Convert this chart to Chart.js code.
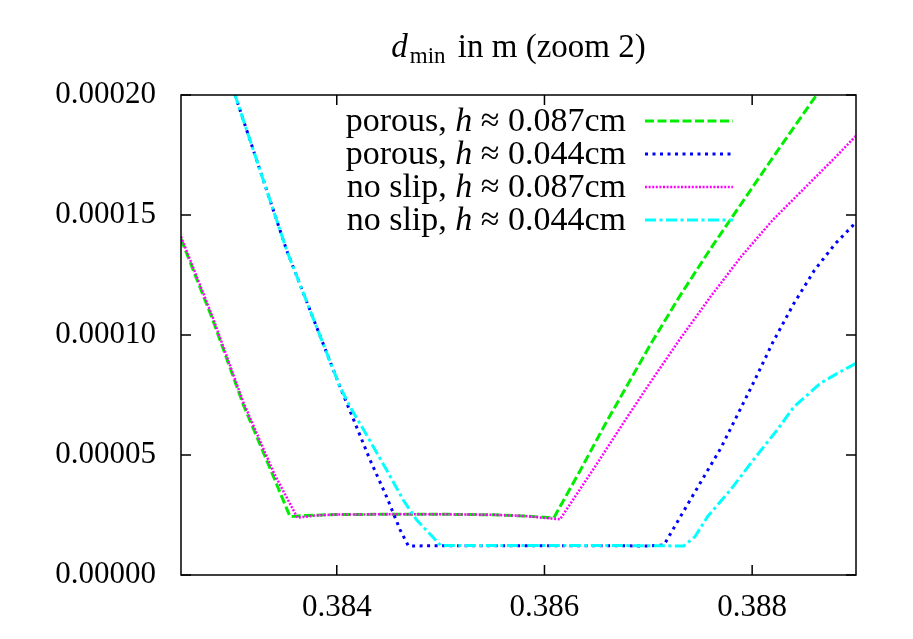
<!DOCTYPE html>
<html>
<head>
<meta charset="utf-8">
<script src="https://cdn.jsdelivr.net/npm/chart.js@4.4.1/dist/chart.umd.min.js"></script>
<style>
  html, body { margin: 0; padding: 0; background: #fff; }
  #wrap { width: 913px; height: 639px; position: relative; }
</style>
</head>
<body>
<div id="wrap"><canvas id="c" width="913" height="639"></canvas></div>
<script>
// ---- data (x in position, y in metres) ----
const xTicks = [0.384, 0.386, 0.388];
const yTicks = [0.00000, 0.00005, 0.00010, 0.00015, 0.00020];

const porous087X = [0.3825, 0.3828, 0.3831, 0.3834, 0.38355, 0.3837, 0.3840, 0.3845, 0.3850, 0.3855, 0.3858, 0.38609, 0.38635, 0.3866, 0.38681, 0.38702, 0.3873, 0.3876, 0.3879, 0.3882, 0.38862];
const porous087Y = [140e-6, 107e-6, 71e-6, 40e-6, 24.3e-6, 24.8e-6, 25.2e-6, 25.3e-6, 25.3e-6, 25.1e-6, 24.6e-6, 23.8e-6, 44e-6, 64e-6, 80e-6, 96e-6, 116e-6, 136e-6, 155e-6, 174e-6, 200e-6];

const porous044X = [0.38295, 0.38302, 0.38352, 0.38403, 0.38415, 0.38432, 0.38448, 0.38461, 0.38469, 0.3850, 0.3855, 0.3860, 0.3865, 0.3870, 0.38715, 0.3874, 0.3877, 0.3880, 0.3882, 0.3884, 0.3886, 0.3888, 0.3890];
const porous044Y = [209e-6, 200e-6, 135e-6, 78.5e-6, 66e-6, 48e-6, 32.6e-6, 18.8e-6, 12.1e-6, 12.2e-6, 12.2e-6, 12.2e-6, 12.2e-6, 12.1e-6, 12.5e-6, 31e-6, 53e-6, 79e-6, 97e-6, 113e-6, 127e-6, 138e-6, 147e-6];

const noslip087X = [0.3825, 0.3828, 0.3831, 0.3834, 0.38362, 0.3838, 0.3840, 0.3845, 0.3850, 0.3855, 0.3858, 0.38615, 0.3865, 0.3868, 0.3870, 0.3873, 0.3876, 0.3879, 0.3882, 0.3885, 0.3888, 0.3890];
const noslip087Y = [141e-6, 108e-6, 72e-6, 42e-6, 23.9e-6, 24.8e-6, 25.2e-6, 25.3e-6, 25.3e-6, 25.1e-6, 24.6e-6, 23.2e-6, 46e-6, 66e-6, 79e-6, 98e-6, 116e-6, 133e-6, 148e-6, 161e-6, 174e-6, 183e-6];

const noslip044X = [0.38295, 0.38302, 0.38352, 0.38403, 0.38413, 0.38426, 0.38448, 0.38464, 0.38477, 0.3849, 0.3850, 0.3855, 0.3860, 0.3865, 0.3870, 0.38734, 0.38745, 0.38757, 0.38779, 0.38801, 0.38824, 0.3884, 0.38866, 0.38885, 0.3890];
const noslip044Y = [209e-6, 200e-6, 135e-6, 78.5e-6, 70e-6, 60.4e-6, 43.75e-6, 31.25e-6, 22.9e-6, 17e-6, 12.3e-6, 12.3e-6, 12.3e-6, 12.3e-6, 12.2e-6, 12.1e-6, 16e-6, 24.3e-6, 35.4e-6, 47.9e-6, 60.4e-6, 70e-6, 80e-6, 84.7e-6, 88.2e-6];

const seriesLabels = [
  ["porous, ", "h", " \u2248 0.087cm"],
  ["porous, ", "h", " \u2248 0.044cm"],
  ["no slip, ", "h", " \u2248 0.087cm"],
  ["no slip, ", "h", " \u2248 0.044cm"]
];
const titleParts = ["d", "min", " in m (zoom 2)"];

// ---- build ----
const pts = (xs, ys) => xs.map((x, i) => ({ x: x, y: ys[i] }));
const SERIF = "'Liberation Serif', 'DejaVu Serif', serif";

const styles = [
  { color: '#00ee00', dash: [9, 3.5], width: 3 },
  { color: '#0000ff', dash: [3, 4.5], width: 3 },
  { color: '#ff00ff', dash: [2, 1.6], width: 2.5 },
  { color: '#00ffff', dash: [11, 3.5, 3, 3.5], width: 3 }
];
const seriesData = [
  pts(porous087X, porous087Y),
  pts(porous044X, porous044Y),
  pts(noslip087X, noslip087Y),
  pts(noslip044X, noslip044Y)
];

const datasets = seriesData.map((d, i) => ({
  label: seriesLabels[i].join(''),
  data: d,
  borderColor: styles[i].color,
  borderWidth: styles[i].width,
  borderDash: styles[i].dash,
  borderCapStyle: 'butt',
  pointRadius: 0,
  tension: 0,
  fill: false,
  order: 4 - i
}));

const framePlugin = {
  id: 'frame',
  afterDatasetsDraw(chart) {
    const { ctx, chartArea: a, scales } = chart;
    ctx.save();
    ctx.strokeStyle = '#000';
    ctx.lineWidth = 1.5;
    ctx.setLineDash([]);
    ctx.strokeRect(a.left, a.top, a.right - a.left, a.bottom - a.top);
    const L = 10;
    ctx.beginPath();
    scales.x.ticks.forEach(t => {
      const px = scales.x.getPixelForValue(t.value);
      ctx.moveTo(px, a.bottom); ctx.lineTo(px, a.bottom - L);
      ctx.moveTo(px, a.top); ctx.lineTo(px, a.top + L);
    });
    scales.y.ticks.forEach(t => {
      const py = scales.y.getPixelForValue(t.value);
      ctx.moveTo(a.left, py); ctx.lineTo(a.left + L, py);
      ctx.moveTo(a.right, py); ctx.lineTo(a.right - L, py);
    });
    ctx.stroke();
    ctx.restore();
  }
};

const legendPlugin = {
  id: 'gpLegend',
  afterDraw(chart) {
    const { ctx } = chart;
    ctx.save();
    const fs = 34;
    const textRight = 626;
    const lineX0 = 645, lineX1 = 733;
    const rowY = [121, 154, 187, 220];
    ctx.textBaseline = 'alphabetic';
    seriesLabels.forEach((parts, i) => {
      const fonts = [`${fs}px ${SERIF}`, `italic ${fs}px ${SERIF}`, `${fs}px ${SERIF}`];
      let w = 0;
      parts.forEach((p, k) => { ctx.font = fonts[k]; w += ctx.measureText(p).width; });
      let x = textRight - w;
      ctx.fillStyle = '#000';
      parts.forEach((p, k) => { ctx.font = fonts[k]; ctx.fillText(p, x, rowY[i] + 10); x += ctx.measureText(p).width; });
      ctx.strokeStyle = styles[i].color;
      ctx.lineWidth = styles[i].width;
      ctx.setLineDash(styles[i].dash);
      ctx.lineCap = 'butt';
      ctx.beginPath();
      ctx.moveTo(lineX0, rowY[i]);
      ctx.lineTo(lineX1, rowY[i]);
      ctx.stroke();
    });
    ctx.restore();
  }
};

const titlePlugin = {
  id: 'gpTitle',
  afterDraw(chart) {
    const { ctx, chartArea: a } = chart;
    ctx.save();
    ctx.fillStyle = '#000';
    ctx.textBaseline = 'alphabetic';
    const f0 = `italic 33px ${SERIF}`, f1 = `23px ${SERIF}`, f2 = `33px ${SERIF}`;
    ctx.font = f0; const w0 = ctx.measureText(titleParts[0]).width;
    ctx.font = f1; const w1 = ctx.measureText(titleParts[1]).width;
    ctx.font = f2; const w2 = ctx.measureText(titleParts[2]).width;
    const total = w0 + 2 + w1 + w2 + 4;
    let x = (a.left + a.right) / 2 - total / 2;
    const base = 57;
    ctx.font = f0; ctx.fillText(titleParts[0], x, base); x += w0 + 2;
    ctx.font = f1; ctx.fillText(titleParts[1], x, base + 6); x += w1 + 4;
    ctx.font = f2; ctx.fillText(titleParts[2], x, base);
    ctx.restore();
  }
};

new Chart(document.getElementById('c'), {
  type: 'line',
  data: { datasets },
  options: {
    responsive: false,
    animation: false,
    layout: { padding: { top: 95, right: 57, left: 0, bottom: 0 } },
    plugins: { legend: { display: false }, title: { display: false }, tooltip: { enabled: false } },
    scales: {
      x: {
        type: 'linear',
        min: 0.3825, max: 0.389,
        afterBuildTicks: s => { s.ticks = xTicks.map(v => ({ value: v })); },
        afterFit: s => { s.height = 64; },
        grid: { display: false },
        border: { display: false },
        ticks: {
          color: '#000', padding: 6,
          font: { family: SERIF, size: 31 },
          callback: v => Number(v).toFixed(3)
        }
      },
      y: {
        type: 'linear',
        min: 0, max: 0.0002,
        afterBuildTicks: s => { s.ticks = yTicks.map(v => ({ value: v })); },
        afterFit: s => { s.width = 181; },
        grid: { display: false },
        border: { display: false },
        ticks: {
          color: '#000', padding: 17,
          font: { family: SERIF, size: 31 },
          callback: v => Number(v).toFixed(5)
        }
      }
    }
  },
  plugins: [framePlugin, legendPlugin, titlePlugin]
});
</script>
</body>
</html>
